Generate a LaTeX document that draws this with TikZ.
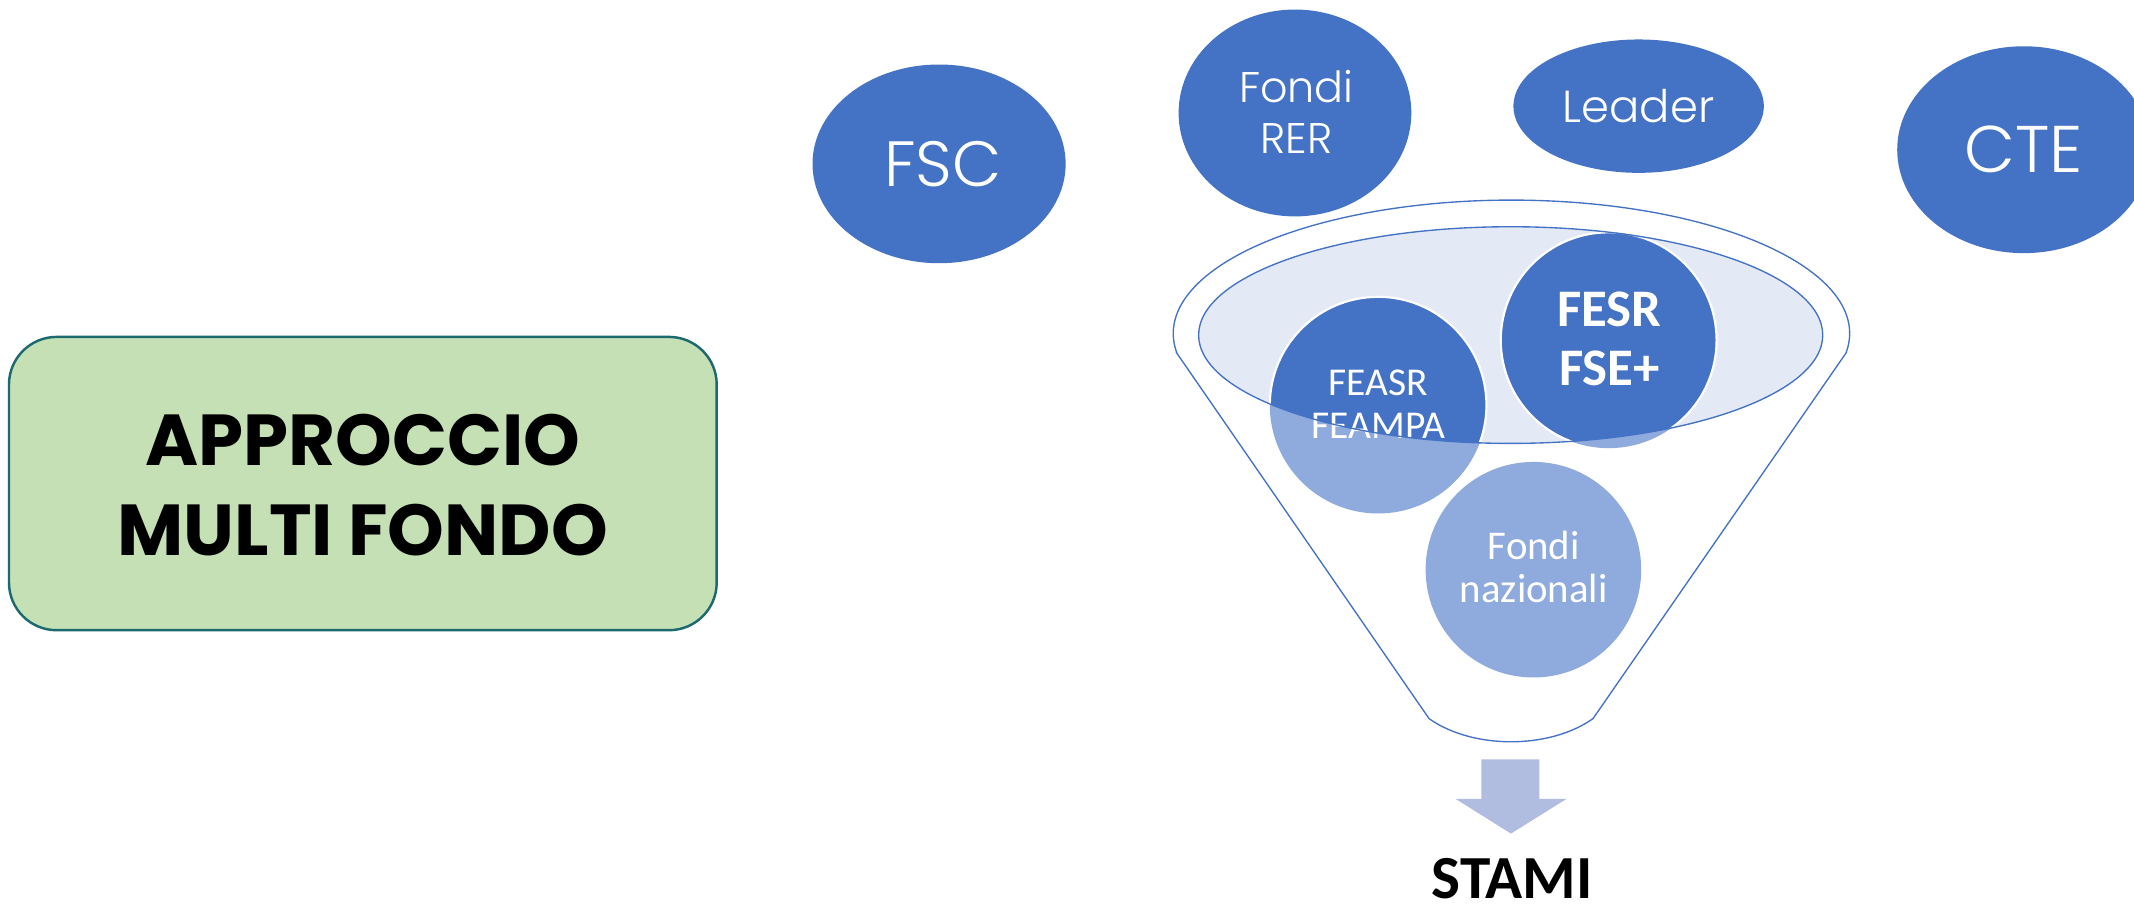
\documentclass[tikz,border=0pt]{standalone}
\usepackage{fontspec}
\setmainfont{Carlito}
\newfontfamily\boxfont{Poppins}
\IfFontExistsTF{Poppins Light}{\newfontfamily\lightfont{Poppins Light}}{\newfontfamily\lightfont{Poppins}}
\usetikzlibrary{shapes.geometric}
\definecolor{dblue}{HTML}{4472C4}
\definecolor{lblue}{HTML}{8FAADC}
\definecolor{pale}{HTML}{E3E9F5}
\definecolor{arrowc}{HTML}{B0BDE0}
\definecolor{boxgreen}{HTML}{C5E0B4}
\definecolor{boxedge}{HTML}{1D6970}
\newcommand\twol[2]{\begin{tabular}[t]{@{}c@{}}#1\\#2\end{tabular}}
\begin{document}
\begin{tikzpicture}[x=1pt,y=-1pt,
  topell/.style={ellipse, fill=dblue, inner sep=0pt},
  lighttxt/.style={anchor=base, text=white, inner sep=0pt},
  fundtxt/.style={anchor=base, text=white, inner sep=0pt},
  rimline/.style={draw=dblue, line width=1pt}]
\useasboundingbox (0,0) rectangle (1568,671);
\clip (0,0) rectangle (1568,671);

% green box
\node[draw=boxedge, line width=1.8pt, fill=boxgreen, rounded corners=35pt,
      minimum width=520pt, minimum height=215.5pt, inner sep=0pt] (box) at (266.6,355.3) {};
\node[anchor=base, inner sep=0pt, font=\boxfont\bfseries\fontsize{53}{66}\selectfont] (boxtxt)
  at (266.5,342) {\twol{APPROCCIO}{MULTI FONDO}};

% top ellipses
\node[topell, minimum width=186pt, minimum height=146pt] (fsc) at (690,120.4) {};
\node[lighttxt, font=\lightfont\fontsize{47}{56}\selectfont] (fsct) at (692.8,137.2) {FSC};
\node[topell, minimum width=171pt, minimum height=152pt] (rer) at (951.5,83) {};
\node[lighttxt, font=\lightfont\fontsize{31.5}{37.5}\selectfont] (rert) at (952.5,75.5) {\twol{Fondi}{RER}};
\node[topell, minimum width=184pt, minimum height=98pt] (leader) at (1204,78) {};
\node[lighttxt, font=\lightfont\fontsize{33}{40}\selectfont] (leadert) at (1204,90) {Leader};
\node[topell, minimum width=186pt, minimum height=152pt] (cte) at (1487,110) {};
\node[lighttxt, font=\lightfont\fontsize{48.5}{56}\selectfont] (ctet) at (1487,127) {CTE};

% funnel outline
\draw[rimline] (864.7,259.5) -- (1050,528)
  .. controls (1082,550.7) and (1138.5,550.7) .. (1170.5,528)
  -- (1356.3,259.5) arc[start angle=-8.5, end angle=188.5, x radius=248.5pt, y radius=98pt] -- cycle;

% inner rim fill
\fill[pale] (1110,246.2) ellipse[x radius=229.3pt, y radius=79.6pt];

% circles (light parts)
\fill[lblue] (1012.6,297.7) circle[radius=79.6pt];
\fill[lblue] (1182,250) circle[radius=79.3pt];
\fill[lblue] (1126.7,418.6) circle[radius=79.2pt];

% circles (dark parts inside rim)
\begin{scope}
  \clip (1110,246.2) ellipse[x radius=229.3pt, y radius=79.6pt];
  \draw[white, line width=1.6pt, fill=dblue] (1012.6,297.7) circle[radius=79.6pt];
  \draw[white, line width=1.6pt, fill=dblue] (1182,250) circle[radius=79.3pt];
\end{scope}

% funnel texts
\node[fundtxt, font=\bfseries\fontsize{38.8}{42.9}\selectfont] (fesr) at (1182.5,240.1) {\twol{FESR}{FSE+}};
\node[fundtxt, font=\fontsize{29}{32}\selectfont] (feasr) at (1012.8,290.3) {\twol{FEASR}{FEAMPA}};
\node[fundtxt, font=\fontsize{30}{32}\selectfont] (naz) at (1127,410.9) {\twol{Fondi}{nazionali}};

% inner rim stroke
\draw[rimline] (1110,246.2) ellipse[x radius=229.3pt, y radius=79.6pt];

% down arrow
\fill[arrowc] (1088.5,558) -- (1131,558) -- (1131,587) -- (1151,587) -- (1110.2,612.5)
  -- (1069.5,587) -- (1088.5,587) -- cycle;

% result
\node[anchor=base, inner sep=0pt, font=\bfseries\fontsize{45}{52}\selectfont] (stami) at (1111,660) {STAMI};
\end{tikzpicture}
\end{document}
